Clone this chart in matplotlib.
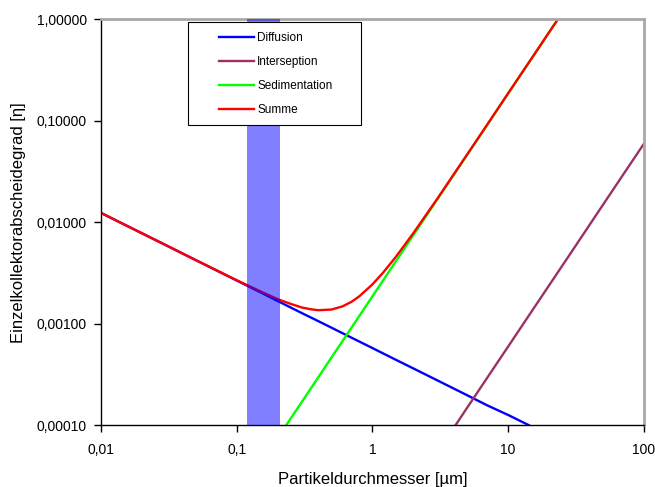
import matplotlib.pyplot as plt
from matplotlib.patches import Rectangle
from matplotlib.ticker import FixedLocator, FixedFormatter, NullLocator

plt.rcParams["font.family"] = ["Liberation Sans", "DejaVu Sans"]

# Partikeldurchmesser [µm] und Abscheidegrade
diff_x = [0.01, 0.015, 0.02, 0.03, 0.05, 0.07, 0.1, 0.15, 0.2, 0.3, 0.4, 0.5,
          0.7, 1.0, 1.5, 2.0, 3.0, 5.0, 7.0, 10.0, 14.2]
diff_y = [0.0124, 0.00946, 0.00781, 0.00596, 0.00424, 0.00339, 0.00267, 0.00204,
          0.00168, 0.00128, 0.00106, 0.000914, 0.00073, 0.000576, 0.000439,
          0.000363, 0.000277, 0.000197, 0.000157, 0.000126, 0.0001]

inter_x = [4.1, 5.0, 7.0, 10.0, 15.0, 20.0, 30.0, 50.0, 70.0, 100.0]
inter_y = [0.0001, 0.000149, 0.000292, 0.000595, 0.00134, 0.00238, 0.00535,
           0.0149, 0.0292, 0.0595]

sed_x = [0.232, 0.3, 0.4, 0.5, 0.7, 1.0, 1.5, 2.0, 3.0, 5.0, 7.0, 10.0, 15.0,
         20.0, 24.0]
sed_y = [0.0001, 0.000167, 0.000297, 0.000465, 0.00091, 0.00186, 0.00418,
         0.00743, 0.0167, 0.0465, 0.091, 0.186, 0.418, 0.743, 1.07]

sum_x = [0.01, 0.015, 0.02, 0.03, 0.05, 0.07, 0.1, 0.15, 0.2, 0.25, 0.3, 0.35,
         0.4, 0.5, 0.6, 0.7, 0.8, 1.0, 1.2, 1.5, 2.0, 3.0, 5.0, 7.0, 10.0, 15.0,
         20.0, 24.0]
sum_y = [0.0124, 0.00946, 0.00782, 0.00598, 0.00424, 0.0034, 0.00269, 0.00208,
         0.00175, 0.00157, 0.00145, 0.00139, 0.00136, 0.00138, 0.00148, 0.00164,
         0.00186, 0.00244, 0.00319, 0.00462, 0.00779, 0.017, 0.0468, 0.0915,
         0.187, 0.419, 0.745, 1.07]

band = (0.12, 0.21)

x_ticks = [0.01, 0.1, 1, 10, 100]
x_labels = ["0,01", "0,1", "1", "10", "100"]
y_ticks = [0.0001, 0.001, 0.01, 0.1, 1]
y_labels = ["0,00010", "0,00100", "0,01000", "0,10000", "1,00000"]

fig = plt.figure(figsize=(6.55, 4.87), dpi=100)
ax = fig.add_axes([0.154, 0.127, 0.829, 0.833])

ax.plot(diff_x, diff_y, color="#0000FF", lw=1.7, label="Diffusion")
ax.plot(inter_x, inter_y, color="#993366", lw=1.7, label="Interseption")
ax.plot(sed_x, sed_y, color="#00FF00", lw=1.7, label="Sedimentation")
ax.plot(sum_x, sum_y, color="#FF0000", lw=1.7, label="Summe")

# markierter Partikelbereich, halbtransparent ueber den Kurven
ax.axvspan(band[0], band[1], color="#0000FF", alpha=0.5, lw=0, zorder=5)

ax.set_xscale("log")
ax.set_yscale("log")
ax.set_xlim(0.01, 100)
ax.set_ylim(0.0001, 1)

ax.xaxis.set_major_locator(FixedLocator(x_ticks))
ax.xaxis.set_major_formatter(FixedFormatter(x_labels))
ax.xaxis.set_minor_locator(NullLocator())
ax.yaxis.set_major_locator(FixedLocator(y_ticks))
ax.yaxis.set_major_formatter(FixedFormatter(y_labels))
ax.yaxis.set_minor_locator(NullLocator())
ax.tick_params(direction="out", length=5, width=1, labelsize=10)
ax.tick_params(axis="x", pad=8)
ax.tick_params(axis="y", pad=5)

for side in ["top", "right"]:
    ax.spines[side].set_color("#A8A8A8")
    ax.spines[side].set_linewidth(2)
for side in ["left", "bottom"]:
    ax.spines[side].set_color("black")
    ax.spines[side].set_linewidth(1)

ax.set_xlabel("Partikeldurchmesser [µm]", fontsize=12, labelpad=11)
ax.set_ylabel("Einzelkollektorabscheidegrad [η]", fontsize=12, labelpad=8)

# Legendenrahmen separat, damit links/rechts mehr Rand bleibt
frame = Rectangle((0.1605, 0.741), 0.319, 0.252, transform=ax.transAxes,
                  facecolor="white", edgecolor="black", lw=0.8, zorder=9)
ax.add_patch(frame)
leg = ax.legend(loc="upper left", bbox_to_anchor=(0.217, 0.968), fontsize=8.5,
                frameon=False, handlelength=3.0, handletextpad=0.25,
                labelspacing=1.0, borderpad=0, borderaxespad=0)
leg.set_zorder(10)

fig.savefig("out.png", dpi=100)
